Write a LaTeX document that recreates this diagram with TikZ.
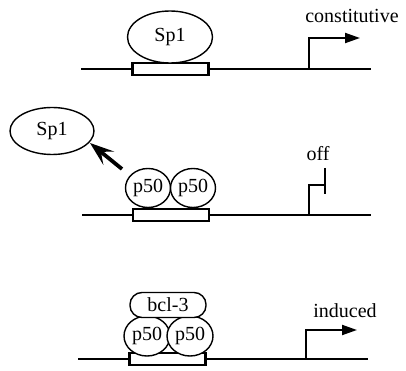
\documentclass[tikz,border=0pt]{standalone}
\usepackage{fontspec}
\setmainfont{Liberation Serif}
\usetikzlibrary{shapes.geometric,arrows.meta}
\begin{document}
\begin{tikzpicture}[x=1pt,y=-1pt,
  every node/.style={font=\fontsize{20}{24}\selectfont, inner sep=0pt},
  dna/.style={line width=2.1pt},
  site/.style={draw, line width=2.8pt, fill=white, minimum width=76pt, minimum height=12pt},
  prot/.style={draw, ellipse, line width=1.4pt, fill=white},
  lbl/.style={anchor=center},
  prom/.style={line width=2pt},
  promarrow/.style={line width=2pt, -{Triangle[length=15pt,width=10pt]}},
  release/.style={line width=3.8pt, -{Stealth[length=24pt,width=17pt,inset=10pt]}}
]
\useasboundingbox (0,0) rectangle (406,371);
% ---- row 1: constitutive
\coordinate (l1a) at (81,69);
\coordinate (l1b) at (371,69);
\draw[dna] (l1a) -- (l1b);
\node[site] (box1) at (170.5,69) {};
\node[prot, minimum width=85pt, minimum height=52pt] (sp1a) at (170,37) {Sp1};
\coordinate (t1) at (309,69);
\coordinate (t1c) at (309,38);
\coordinate (t1e) at (360,38);
\draw[promarrow] (t1) -- (t1c) -- (t1e);
\node[lbl] (lab1) at (352,16) {constitutive};
% ---- row 2: off
\coordinate (l2a) at (82,215);
\coordinate (l2b) at (371,215);
\draw[dna] (l2a) -- (l2b);
\node[site] (box2) at (171,215) {};
\node[prot, minimum width=45pt, minimum height=39pt] (p50a) at (148,188) {p50};
\node[prot, minimum width=45pt, minimum height=39pt] (p50b) at (193,188) {p50};
\node[prot, minimum width=84pt, minimum height=47pt] (sp1b) at (52,131) {Sp1};
\coordinate (rel) at (122,169);
\coordinate (reltip) at (90,143);
\draw[release] (rel) -- (reltip);
\coordinate (t2) at (309,215);
\coordinate (t2c) at (309,185);
\coordinate (t2e) at (325,185);
\coordinate (bar2a) at (325,168);
\coordinate (bar2b) at (325,194);
\draw[prom] (t2) -- (t2c) -- (t2e);
\draw[prom] (bar2a) -- (bar2b);
\node[lbl] (lab2) at (318,154) {off};
% ---- row 3: induced
\coordinate (l3a) at (78,359);
\coordinate (l3b) at (368,359);
\draw[dna] (l3a) -- (l3b);
\node[site] (box3) at (167.5,359) {};
\node[prot, minimum width=46pt, minimum height=40pt] (p50c) at (147,336) {p50};
\node[prot, minimum width=46pt, minimum height=40pt] (p50d) at (190,336) {p50};
\node[draw, fill=white, line width=1.4pt, rounded corners=12pt, minimum width=76pt, minimum height=25pt] (bcl) at (168,305) {bcl-3};
\coordinate (t3) at (306,359);
\coordinate (t3c) at (306,330);
\coordinate (t3e) at (357,330);
\draw[promarrow] (t3) -- (t3c) -- (t3e);
\node[lbl] (lab3) at (345,311) {induced};
\end{tikzpicture}
\end{document}
